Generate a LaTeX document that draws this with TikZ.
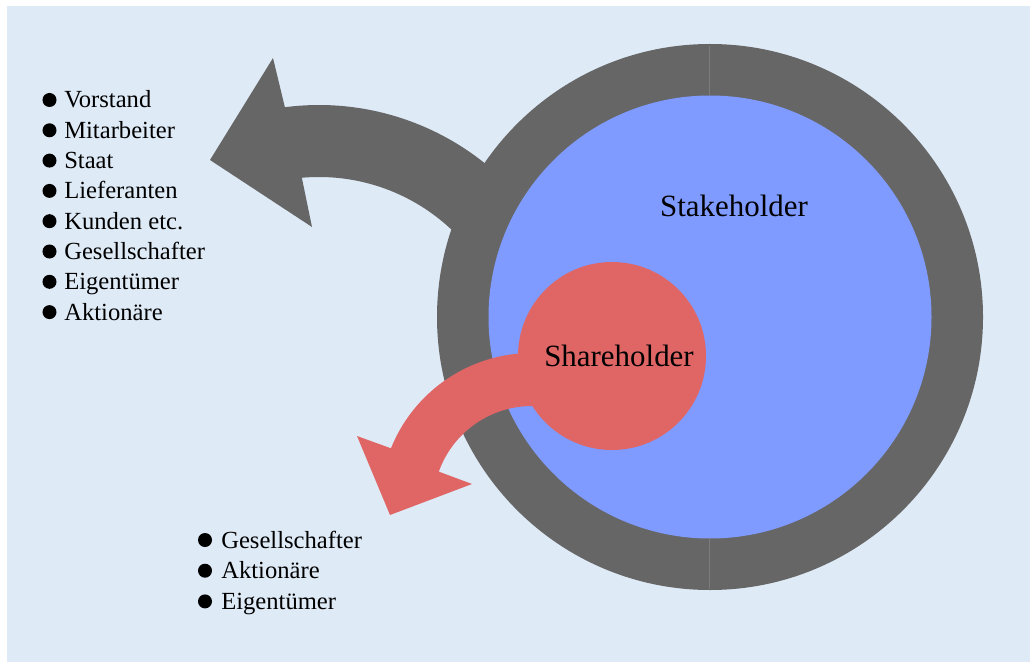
\documentclass[tikz,border=0pt]{standalone}
\usepackage{fontspec}
\setmainfont{Liberation Serif}
\usetikzlibrary{calc}
\definecolor{panel}{HTML}{DEEAF6}
\definecolor{ringgray}{HTML}{666666}
\definecolor{seam}{HTML}{7C7C7C}
\definecolor{stakeblue}{HTML}{7F9BFF}
\definecolor{sharered}{HTML}{E06666}
\begin{document}
\begin{tikzpicture}[x=0.025cm,y=0.025cm,
  listtext/.style={anchor=base west,inner sep=0pt,font=\fontsize{17.5}{21}\selectfont},
  bulletdot/.style={circle,fill=black,inner sep=0pt,minimum size=0.35cm},
  biglabel/.style={anchor=base,inner sep=0pt,font=\fontsize{22}{26}\selectfont}]
\useasboundingbox (0,0) rectangle (1030,-662);
\fill[white] (0,0) rectangle (1030,-662);
\fill[panel] (7,-6) rectangle (1030,-662);

% centres of the two curved arrows and of the ring
\coordinate (G) at (319,-370);
\coordinate (R) at (532,-505);
\coordinate (C) at (710,-317);

% grey curved arrow leaving the ring towards the stakeholder list
\fill[ringgray] ($(G)+(30:265)$) arc[start angle=30,end angle=97.4,radius=265]
  -- (273,-58) -- (210,-160) -- (312,-227)
  -- ($(G)+(95.1:193)$) arc[start angle=95.1,end angle=30,radius=193] -- cycle;

% ring, stakeholder disc and seams of the ring
\fill[ringgray] (C) circle (273);
\fill[stakeblue] (C) circle (221.5);
\draw[seam,line width=0.6pt] (709,-46) -- (709,-95);
\draw[seam,line width=0.6pt] (709,-538) -- (709,-589);

% shareholder disc and its arrow
\fill[sharered] (612,-356) circle (94);
\fill[sharered] ($(R)+(85:152)$) arc[start angle=85,end angle=158.1,radius=152]
  -- (357,-436) -- (390,-515) -- (472,-484)
  -- ($(R)+(160.3:99)$) arc[start angle=160.3,end angle=85,radius=99] -- cycle;

% labels
\node[biglabel] (stake) at (734,-217) {Stakeholder};
\node[biglabel] (share) at (619,-366) {Shareholder};

% stakeholder list
\foreach \t [count=\i] in {Vorstand,Mitarbeiter,Staat,Lieferanten,Kunden etc.,Gesellschafter,Eigentümer,Aktionäre} {
  \node[bulletdot] (lb\i) at (49.5,{-100-30.3*(\i-1)}) {};
  \node[listtext] (lt\i) at (64,{-108-30.3*(\i-1)}) {\t};
}

% shareholder list
\foreach \t [count=\i] in {Gesellschafter,Aktionäre,Eigentümer} {
  \node[bulletdot] (sb\i) at (205,{-540-30.7*(\i-1)}) {};
  \node[listtext] (st\i) at (221,{-548-30.7*(\i-1)}) {\t};
}
\end{tikzpicture}
\end{document}
